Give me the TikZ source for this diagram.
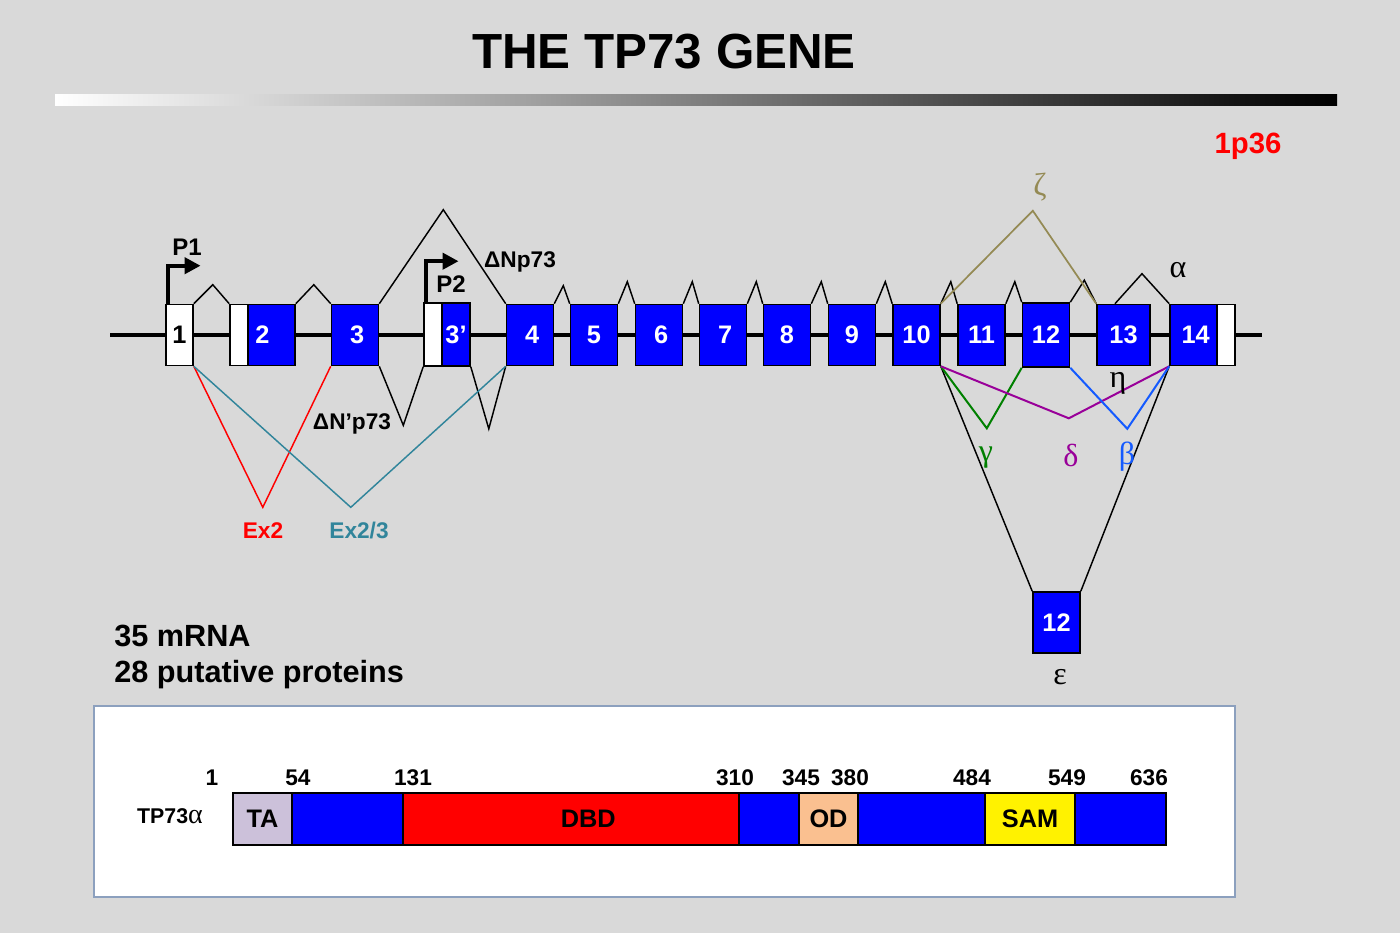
\documentclass[tikz,border=0pt]{standalone}
\usepackage{fontspec}
\setmainfont{Liberation Sans}
\newfontfamily\greekfont{Liberation Serif}
\usepackage{tikz}
\usetikzlibrary{arrows.meta, positioning}

\definecolor{slidegray}{RGB}{217,217,217}
\definecolor{exonblue}{RGB}{0,0,255}
\definecolor{extwo}{RGB}{255,0,0}
\definecolor{extwothree}{RGB}{49,133,155}
\definecolor{zetacol}{RGB}{148,138,84}
\definecolor{gammacol}{RGB}{0,128,0}
\definecolor{deltacol}{RGB}{153,0,153}
\definecolor{betacol}{RGB}{20,90,255}
\definecolor{talav}{RGB}{204,193,218}
\definecolor{odpeach}{RGB}{250,192,144}
\definecolor{panelline}{RGB}{140,160,190}
\newcommand{\fsz}[2]{\fontsize{#1}{#2}\selectfont}

\begin{document}
\begin{tikzpicture}[
                x=0.75pt, y=-0.75pt,
                exon/.style={
                    draw, line width=1.2pt,
                    fill=exonblue, text=white,
                    font=\fsz{19}{22}\bfseries,
                    inner sep=0pt,
                    minimum width=35.25pt, minimum height=45.75pt,
                },
                utr/.style={exon, fill=white, text=black},
                intron/.style={line width=1.1pt},
                splice/.style={line width=1.5pt},
                promoter/.style={line width=3pt, -{Triangle[length=12pt,width=12pt]}},
                lbl/.style={font=\fsz{17}{20}\bfseries, inner sep=0pt},
                greek/.style={font=\greekfont\fsz{24}{28}, inner sep=0pt},
                dom/.style={
                    draw, line width=1pt,
                    inner sep=0pt, outer sep=0pt,
                    minimum height=39pt,
                    font=\fsz{19}{22}\bfseries,
                },
                num/.style={font=\fsz{17}{20}\bfseries, inner sep=0pt},
            ]
            \fill [slidegray] (0,0) rectangle (1400,933);
            \useasboundingbox (0,0) rectangle (1400,933);

            % title
            \node [font=\fsz{37}{40}\bfseries] (title) at (664,52) {THE TP73 GENE};
            \shade [left color=white, right color=black] (55,94) rectangle (1337,105);
            \node [font=\fsz{22}{26}\bfseries, text=red] (locus) at (1248,146) {1p36};

            % gene
            \coordinate (gstart) at (110,335);
            \coordinate (gend) at (1262,335);
            \draw [line width=2.6pt] (gstart) -- (gend);

            \node [utr, minimum width=20.25pt] (e1) at (179.5,335) {1};
            \node [exon, minimum width=48.75pt] (e2) at (262.5,335) {2};
            \node [utr, minimum width=13.5pt] (u2) at (239,335) {};
            \node [exon] (e3) at (355,335) {\,3};
            \node [utr, minimum width=13.5pt, minimum height=47.25pt] (u3p) at (433,334.5) {};
            \node [exon, minimum width=21pt, minimum height=47.25pt] (e3p) at (456,334.5) {3’};
            \node [exon] (e4) at (530,335) {\,4};
            \node [exon] (e5) at (594,335) {5};
            \node [exon] (e6) at (659,335) {\,6};
            \node [exon] (e7) at (723,335) {\,7};
            \node [exon] (e8) at (787,335) {8};
            \node [exon] (e9) at (852,335) {9};
            \node [exon] (e10) at (916.5,335) {10};
            \node [exon] (e11) at (981.5,335) {11};
            \node [exon, minimum height=48pt] (e12) at (1046,335) {12};
            \node [exon, minimum width=39.75pt] (e13) at (1123.5,335) {13};
            \node [exon] (e14) at (1193.5,335) {\,14};
            \node [utr, minimum width=13.5pt] (u14) at (1226,335) {};
            \node [exon] (e12b) at (1056.5,622.5) {12};

            % splicing above
            \draw [intron] (e1.north east) -- ++(19,-19) -- (e2.north west);
            \draw [intron] (e2.north east) -- ++(18,-19) -- (e3.north west);
            \draw [intron] (e3.north east) -- ++(64,-94) -- (e4.north west);
            \draw [intron] (e4.north east) -- ++(9,-18) -- (e5.north west);
            \draw [intron] (e5.north east) -- ++(9,-22) -- (e6.north west);
            \draw [intron] (e6.north east) -- ++(9,-22) -- (e7.north west);
            \draw [intron] (e7.north east) -- ++(9,-22) -- (e8.north west);
            \draw [intron] (e8.north east) -- ++(10,-22) -- (e9.north west);
            \draw [intron] (e9.north east) -- ++(9,-22) -- (e10.north west);
            \draw [intron] (e10.north east) -- ++(10,-22) -- (e11.north west);
            \draw [intron] (e11.north east) -- ++(9,-22) -- (e12.north west);
            \draw [intron] (e12.north east) -- ++(14,-22) -- (e13.north west);
            \draw [intron] ([xshift=-6.4pt]e13.north) -- ++(27,-30) -- (e14.north west);
            \draw [splice, line width=1.3pt, zetacol] (e10.north east) -- ++(92,-93) -- (e13.north west);

            % promoters
            \draw [promoter] ([xshift=1.8pt]e1.north west) |- ++(33,-38);
            \node [lbl, font=\fsz{18}{21}\bfseries] (p1) at (187,247) {P1};
            \draw [promoter] ([xshift=1.8pt]u3p.north west) |- ++(33,-41);
            \node [lbl, font=\fsz{18}{21}\bfseries] (p2) at (451,284) {P2};
            \node [lbl] (dnp) at (520,262) {ΔNp73};
            \node [lbl] (dnpp) at (352,424) {ΔN’p73};

            % splicing below
            \draw [intron] (e3.south east) -- ++(24,59) -- (u3p.south west);
            \draw [intron] (e3p.south east) -- ++(18,62) -- (e4.south west);
            \draw [intron, extwo] (e1.south east) -- ++(69,141) -- (e3.south west);
            \draw [intron, extwothree] (e1.south east) -- ++(157,141) -- (e4.south west);
            \node [lbl, text=extwo] (ex2) at (263,531) {Ex2};
            \node [lbl, text=extwothree] (ex23) at (359,531) {Ex2/3};

            \draw [intron] (e10.south east) -- (e12b.north west);
            \draw [intron] (e14.south west) -- (e12b.north east);
            \draw [splice, gammacol] (e10.south east) -- ++(46,62) -- (e12.south west);
            \draw [splice, deltacol] (e10.south east) -- ++(128,52) -- (e14.south west);
            \draw [splice, betacol] (e12.south east) -- ++(57,61) -- (e14.south west);

            \node [greek, text=zetacol] (zeta) at (1040,187) {ζ};
            \node [greek] (alpha) at (1178,270) {α};
            \node [greek] (eta) at (1118,383) {η};
            \node [greek, text=gammacol] (gamma) at (986,458) {γ};
            \node [greek, text=deltacol] (delta) at (1071,455) {δ};
            \node [greek, text=betacol] (beta) at (1127,457) {β};
            \node [greek] (eps) at (1060,677) {ε};

            \node [font=\fsz{23}{27}\bfseries, align=left, anchor=west, inner sep=0pt]
                (counts) at (114,657) {35 mRNA\\28 putative proteins};

            % protein
            \draw [panelline, fill=white, line width=0.8pt] (94,706) rectangle (1235,897);
            \node [dom, fill=talav, minimum width=44.25pt] (ta) at (262.5,819) {TA};
            \node [dom, fill=exonblue, minimum width=83.25pt, right=0pt of ta] (lnk1) {};
            \node [dom, fill=red, minimum width=252pt, right=0pt of lnk1] (dbd) {\hspace*{26pt}DBD};
            \node [dom, fill=exonblue, minimum width=45pt, right=0pt of dbd] (lnk2) {};
            \node [dom, fill=odpeach, minimum width=44.25pt, right=0pt of lnk2] (od) {OD};
            \node [dom, fill=exonblue, minimum width=95.25pt, right=0pt of od] (lnk3) {};
            \node [dom, fill=yellow, minimum width=67.5pt, right=0pt of lnk3] (sam) {SAM};
            \node [dom, fill=exonblue, minimum width=68.25pt, right=0pt of sam] (lnk4) {};

            \node [num] (n1) at (212,778) {1};
            \node [num] (n54) at (298,778) {54};
            \node [num] (n131) at (413,778) {131};
            \node [num] (n310) at (735,778) {310};
            \node [num] (n345) at (801,778) {345};
            \node [num] (n380) at (850,778) {380};
            \node [num] (n484) at (972,778) {484};
            \node [num] (n549) at (1067,778) {549};
            \node [num] (n636) at (1149,778) {636};
            \node [font=\fsz{16}{19}\bfseries] (iso) at (170,816) {TP73{\greekfont\mdseries\fsz{21}{24}α}};
        \end{tikzpicture}
\end{document}
